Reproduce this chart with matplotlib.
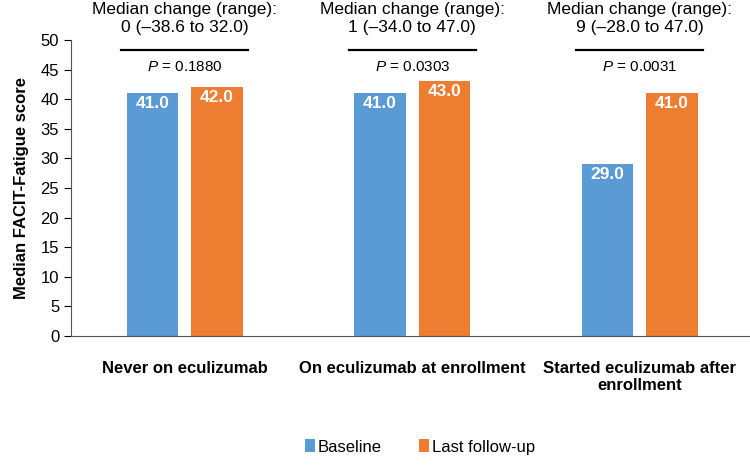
import matplotlib
matplotlib.use("Agg")
import matplotlib.pyplot as plt
import numpy as np

plt.rcParams['font.family'] = ['Liberation Sans', 'DejaVu Sans']
plt.rcParams['mathtext.fontset'] = 'custom'
plt.rcParams['mathtext.it'] = 'Liberation Sans:italic'
plt.rcParams['mathtext.rm'] = 'Liberation Sans'

groups = ['Never on eculizumab', 'On eculizumab at enrollment', 'Started eculizumab after\nenrollment']
baseline = [41.0, 41.0, 29.0]
last_fu = [42.0, 43.0, 41.0]
changes = ['0 (\u201338.6 to 32.0)', '1 (\u201334.0 to 47.0)', '9 (\u201328.0 to 47.0)']
pvals = ['0.1880', '0.0303', '0.0031']

blue = '#5B9BD5'
orange = '#ED7D31'

fig = plt.figure(figsize=(7.5, 4.69), dpi=100)
ax = fig.add_axes([0.0947, 0.2836, 0.91, 0.631])

x = np.arange(len(groups))
w = 0.225
off = 0.142
b1 = ax.bar(x - off, baseline, w, color=blue, label='Baseline')
b2 = ax.bar(x + off, last_fu, w, color=orange, label='Last follow-up')

for bars in (b1, b2):
    for r in bars:
        ax.text(r.get_x() + r.get_width() / 2, r.get_height() - 0.5, f'{r.get_height():.1f}',
                ha='center', va='top', color='white', fontsize=12.5, fontweight='bold')

for i in range(len(groups)):
    ax.text(i, 53.6, 'Median change (range):\n' + changes[i], ha='center', va='center',
            fontsize=12.5, linespacing=1.25, clip_on=False)
    ax.plot([i - 0.28, i + 0.28], [48.3, 48.3], color='black', lw=1.6, clip_on=False)
    ax.text(i, 45.4, r'$P$ = ' + pvals[i], ha='center', va='center', fontsize=11)

ax.set_xlim(-0.5, 2.5)
ax.set_ylim(0, 50)
ax.set_yticks(range(0, 51, 5))
ax.tick_params(axis='y', labelsize=12, direction='out', length=5, color='black')
ax.tick_params(axis='x', length=0, pad=18)
ax.set_xticks(x)
ax.set_xticklabels(groups, fontsize=12, fontweight='bold')
ax.set_ylabel('Median FACIT-Fatigue score', fontsize=12, fontweight='bold', labelpad=8)
ax.spines['top'].set_visible(False)
ax.spines['right'].set_visible(False)
ax.spines['left'].set_color('#555555')
ax.spines['bottom'].set_color('#555555')

fig.legend(handles=[b1, b2], loc='center', bbox_to_anchor=(0.56, 0.047), ncol=2, frameon=False,
           fontsize=12, handlelength=0.6, handleheight=0.8, handletextpad=0.2, columnspacing=2.2)

fig.savefig('out.png', dpi=100)
